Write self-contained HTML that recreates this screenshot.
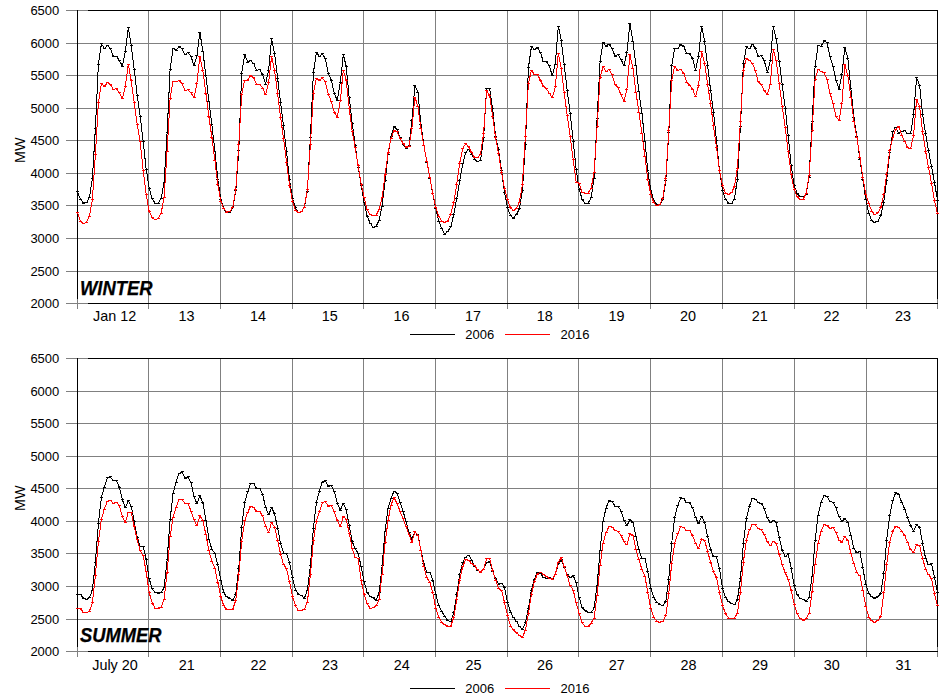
<!DOCTYPE html>
<html><head><meta charset="utf-8"><title>Load profiles</title>
<style>
html,body{margin:0;padding:0;background:#fff;}
body{width:948px;height:698px;overflow:hidden;font-family:"Liberation Sans",sans-serif;}
svg{display:block;}
text{font-family:"Liberation Sans",sans-serif;fill:#000;}
.yl{font-size:13px;}
.xl{font-size:14.4px;}
.tt{font-size:19.6px;stroke:#000;stroke-width:0.25px;font-weight:bold;font-style:italic;}
</style></head><body>
<svg width="948" height="698" viewBox="0 0 948 698">
<rect width="948" height="698" fill="#fff"/>
<rect x="66" y="10" width="871" height="1" fill="#808080"/>
<rect x="66" y="43" width="871" height="1" fill="#808080"/>
<rect x="66" y="75" width="871" height="1" fill="#808080"/>
<rect x="66" y="108" width="871" height="1" fill="#808080"/>
<rect x="66" y="140" width="871" height="1" fill="#808080"/>
<rect x="66" y="173" width="871" height="1" fill="#808080"/>
<rect x="66" y="205" width="871" height="1" fill="#808080"/>
<rect x="66" y="238" width="871" height="1" fill="#808080"/>
<rect x="66" y="271" width="871" height="1" fill="#808080"/>
<rect x="66" y="303" width="871" height="1" fill="#808080"/>
<rect x="77" y="10" width="1" height="299" fill="#808080"/>
<rect x="148" y="10" width="1" height="299" fill="#808080"/>
<rect x="220" y="10" width="1" height="299" fill="#808080"/>
<rect x="292" y="10" width="1" height="299" fill="#808080"/>
<rect x="363" y="10" width="1" height="299" fill="#808080"/>
<rect x="435" y="10" width="1" height="299" fill="#808080"/>
<rect x="507" y="10" width="1" height="299" fill="#808080"/>
<rect x="578" y="10" width="1" height="299" fill="#808080"/>
<rect x="650" y="10" width="1" height="299" fill="#808080"/>
<rect x="722" y="10" width="1" height="299" fill="#808080"/>
<rect x="794" y="10" width="1" height="299" fill="#808080"/>
<rect x="866" y="10" width="1" height="299" fill="#808080"/>
<rect x="937" y="10" width="1" height="299" fill="#808080"/>
<rect x="88" y="10" width="850" height="1" fill="#000"/>
<rect x="88" y="303" width="850" height="1" fill="#000"/>
<rect x="77" y="10" width="1" height="289" fill="#000"/>
<rect x="937" y="10" width="1" height="289" fill="#000"/>
<polyline points="77.5,191.8 80.5,199.4 83.5,203.1 86.5,202.8 89.4,197.4 92.4,178.8 95.4,128.0 98.4,64.4 101.4,43.8 104.4,48.3 107.4,45.8 110.3,48.0 113.3,56.4 116.3,56.1 119.3,60.3 122.3,66.1 125.3,51.4 128.3,27.7 131.2,45.4 134.2,69.1 137.2,95.8 140.2,116.5 143.2,141.9 146.2,169.3 149.2,188.4 152.2,198.6 155.1,203.1 158.1,203.1 161.1,198.6 164.1,182.5 167.1,132.6 170.1,69.5 173.1,48.0 176.0,50.5 179.0,46.6 182.0,48.8 185.0,54.7 188.0,52.5 191.0,56.4 194.0,65.7 196.9,55.6 199.9,32.4 202.9,51.4 205.9,75.9 208.9,101.6 211.9,124.6 214.9,151.2 217.8,179.1 220.8,199.4 223.8,208.7 226.8,212.9 229.8,212.1 232.8,207.9 235.8,190.6 238.8,150.4 241.7,73.4 244.7,54.7 247.7,62.0 250.7,60.3 253.7,63.7 256.7,70.5 259.7,69.5 262.6,74.5 265.6,84.0 268.6,70.0 271.6,38.7 274.6,53.6 277.6,78.1 280.6,102.6 283.5,125.8 286.5,151.2 289.5,179.5 292.5,198.1 295.5,207.9 298.5,212.6 301.5,211.6 304.4,207.0 307.4,191.0 310.4,137.7 313.4,72.5 316.4,52.5 319.4,56.4 322.4,53.6 325.3,58.6 328.3,73.4 331.3,80.1 334.3,93.6 337.3,100.4 340.3,82.7 343.3,54.7 346.2,66.2 349.2,97.5 352.2,123.2 355.2,145.3 358.2,167.3 361.2,185.0 364.2,202.7 367.2,216.3 370.1,223.0 373.1,227.3 376.1,226.4 379.1,220.5 382.1,206.1 385.1,180.7 388.1,154.5 391.0,136.8 394.0,126.7 397.0,129.2 400.0,137.7 403.0,144.4 406.0,148.6 409.0,145.3 411.9,120.7 414.9,85.7 417.9,92.0 420.9,124.1 423.9,145.8 426.9,162.2 429.9,178.2 432.8,193.9 435.8,208.6 438.8,221.3 441.8,228.9 444.8,234.0 447.8,231.5 450.8,226.7 453.8,214.2 456.7,198.5 459.7,180.4 462.7,163.8 465.7,152.3 468.7,149.5 471.7,154.5 474.7,159.1 477.6,161.8 480.6,160.1 483.6,137.7 486.6,88.3 489.6,88.6 492.6,108.6 495.6,136.8 498.5,149.5 501.5,170.3 504.5,192.6 507.5,207.9 510.5,215.5 513.5,218.0 516.5,214.6 519.4,208.7 522.4,190.1 525.4,144.5 528.4,67.8 531.4,46.8 534.4,49.3 537.4,47.5 540.3,52.2 543.3,61.5 546.3,61.5 549.3,65.7 552.3,75.9 555.3,64.0 558.3,26.0 561.2,40.0 564.2,64.4 567.2,90.8 570.2,113.1 573.2,141.1 576.2,169.3 579.2,189.6 582.2,199.4 585.1,203.1 588.1,203.3 591.1,197.7 594.1,178.3 597.1,118.2 600.1,61.0 603.1,42.6 606.0,46.0 609.0,44.1 612.0,48.0 615.0,56.1 618.0,54.7 621.0,59.3 624.0,65.7 626.9,52.5 629.9,23.1 632.9,41.2 635.9,65.4 638.9,91.6 641.9,113.1 644.9,141.1 647.8,170.7 650.8,190.1 653.8,200.3 656.8,204.5 659.8,204.5 662.8,199.4 665.8,180.8 668.8,132.6 671.7,65.7 674.7,48.0 677.7,48.8 680.7,44.6 683.7,46.0 686.7,53.9 689.7,53.9 692.6,58.6 695.6,70.0 698.6,56.1 701.6,26.0 704.6,41.2 707.6,65.7 710.6,90.3 713.5,112.3 716.5,140.2 719.5,170.7 722.5,190.1 725.5,199.4 728.5,203.1 731.5,203.6 734.4,199.1 737.4,179.5 740.4,126.6 743.4,63.7 746.4,46.8 749.4,48.8 752.4,44.6 755.3,48.0 758.3,56.4 761.3,55.6 764.3,60.7 767.3,72.5 770.3,60.7 773.3,26.8 776.2,38.3 779.2,61.0 782.2,84.3 785.2,108.0 788.2,135.5 791.2,165.6 794.2,185.4 797.2,193.5 800.1,196.9 803.1,196.9 806.1,194.0 809.1,177.4 812.1,121.6 815.1,66.6 818.1,45.1 821.0,46.3 824.0,40.9 827.0,42.9 830.0,56.4 833.0,66.2 836.0,80.1 839.0,89.4 841.9,74.2 844.9,47.5 847.9,58.6 850.9,88.6 853.9,117.3 856.9,136.8 859.9,159.7 862.8,179.1 865.8,199.4 868.8,213.3 871.8,220.6 874.8,222.3 877.8,221.1 880.8,215.5 883.8,202.0 886.7,180.0 889.7,152.9 892.7,131.8 895.7,127.0 898.7,133.5 901.7,131.4 904.7,130.9 907.6,133.8 910.6,133.8 913.6,114.5 916.6,77.9 919.6,85.2 922.6,114.8 925.6,133.5 928.5,150.7 931.5,166.4 934.5,182.5 937.5,200.3" fill="none" stroke="#000" stroke-width="1" shape-rendering="crispEdges" stroke-linejoin="round"/>
<path d="M76.0,191.8h3M79.0,199.4h3M82.0,203.1h3M85.0,202.8h3M87.9,197.4h3M90.9,178.8h3M93.9,128.0h3M96.9,64.4h3M99.9,43.8h3M102.9,48.3h3M105.9,45.8h3M108.8,48.0h3M111.8,56.4h3M114.8,56.1h3M117.8,60.3h3M120.8,66.1h3M123.8,51.4h3M126.8,27.7h3M129.8,45.4h3M132.7,69.1h3M135.7,95.8h3M138.7,116.5h3M141.7,141.9h3M144.7,169.3h3M147.7,188.4h3M150.7,198.6h3M153.6,203.1h3M156.6,203.1h3M159.6,198.6h3M162.6,182.5h3M165.6,132.6h3M168.6,69.5h3M171.6,48.0h3M174.5,50.5h3M177.5,46.6h3M180.5,48.8h3M183.5,54.7h3M186.5,52.5h3M189.5,56.4h3M192.5,65.7h3M195.4,55.6h3M198.4,32.4h3M201.4,51.4h3M204.4,75.9h3M207.4,101.6h3M210.4,124.6h3M213.4,151.2h3M216.3,179.1h3M219.3,199.4h3M222.3,208.7h3M225.3,212.9h3M228.3,212.1h3M231.3,207.9h3M234.3,190.6h3M237.2,150.4h3M240.2,73.4h3M243.2,54.7h3M246.2,62.0h3M249.2,60.3h3M252.2,63.7h3M255.2,70.5h3M258.2,69.5h3M261.1,74.5h3M264.1,84.0h3M267.1,70.0h3M270.1,38.7h3M273.1,53.6h3M276.1,78.1h3M279.1,102.6h3M282.0,125.8h3M285.0,151.2h3M288.0,179.5h3M291.0,198.1h3M294.0,207.9h3M297.0,212.6h3M300.0,211.6h3M302.9,207.0h3M305.9,191.0h3M308.9,137.7h3M311.9,72.5h3M314.9,52.5h3M317.9,56.4h3M320.9,53.6h3M323.8,58.6h3M326.8,73.4h3M329.8,80.1h3M332.8,93.6h3M335.8,100.4h3M338.8,82.7h3M341.8,54.7h3M344.8,66.2h3M347.7,97.5h3M350.7,123.2h3M353.7,145.3h3M356.7,167.3h3M359.7,185.0h3M362.7,202.7h3M365.7,216.3h3M368.6,223.0h3M371.6,227.3h3M374.6,226.4h3M377.6,220.5h3M380.6,206.1h3M383.6,180.7h3M386.6,154.5h3M389.5,136.8h3M392.5,126.7h3M395.5,129.2h3M398.5,137.7h3M401.5,144.4h3M404.5,148.6h3M407.5,145.3h3M410.4,120.7h3M413.4,85.7h3M416.4,92.0h3M419.4,124.1h3M422.4,145.8h3M425.4,162.2h3M428.4,178.2h3M431.3,193.9h3M434.3,208.6h3M437.3,221.3h3M440.3,228.9h3M443.3,234.0h3M446.3,231.5h3M449.3,226.7h3M452.2,214.2h3M455.2,198.5h3M458.2,180.4h3M461.2,163.8h3M464.2,152.3h3M467.2,149.5h3M470.2,154.5h3M473.2,159.1h3M476.1,161.8h3M479.1,160.1h3M482.1,137.7h3M485.1,88.3h3M488.1,88.6h3M491.1,108.6h3M494.1,136.8h3M497.0,149.5h3M500.0,170.3h3M503.0,192.6h3M506.0,207.9h3M509.0,215.5h3M512.0,218.0h3M515.0,214.6h3M517.9,208.7h3M520.9,190.1h3M523.9,144.5h3M526.9,67.8h3M529.9,46.8h3M532.9,49.3h3M535.9,47.5h3M538.8,52.2h3M541.8,61.5h3M544.8,61.5h3M547.8,65.7h3M550.8,75.9h3M553.8,64.0h3M556.8,26.0h3M559.8,40.0h3M562.7,64.4h3M565.7,90.8h3M568.7,113.1h3M571.7,141.1h3M574.7,169.3h3M577.7,189.6h3M580.7,199.4h3M583.6,203.1h3M586.6,203.3h3M589.6,197.7h3M592.6,178.3h3M595.6,118.2h3M598.6,61.0h3M601.6,42.6h3M604.5,46.0h3M607.5,44.1h3M610.5,48.0h3M613.5,56.1h3M616.5,54.7h3M619.5,59.3h3M622.5,65.7h3M625.4,52.5h3M628.4,23.1h3M631.4,41.2h3M634.4,65.4h3M637.4,91.6h3M640.4,113.1h3M643.4,141.1h3M646.3,170.7h3M649.3,190.1h3M652.3,200.3h3M655.3,204.5h3M658.3,204.5h3M661.3,199.4h3M664.3,180.8h3M667.2,132.6h3M670.2,65.7h3M673.2,48.0h3M676.2,48.8h3M679.2,44.6h3M682.2,46.0h3M685.2,53.9h3M688.2,53.9h3M691.1,58.6h3M694.1,70.0h3M697.1,56.1h3M700.1,26.0h3M703.1,41.2h3M706.1,65.7h3M709.1,90.3h3M712.0,112.3h3M715.0,140.2h3M718.0,170.7h3M721.0,190.1h3M724.0,199.4h3M727.0,203.1h3M730.0,203.6h3M732.9,199.1h3M735.9,179.5h3M738.9,126.6h3M741.9,63.7h3M744.9,46.8h3M747.9,48.8h3M750.9,44.6h3M753.8,48.0h3M756.8,56.4h3M759.8,55.6h3M762.8,60.7h3M765.8,72.5h3M768.8,60.7h3M771.8,26.8h3M774.8,38.3h3M777.7,61.0h3M780.7,84.3h3M783.7,108.0h3M786.7,135.5h3M789.7,165.6h3M792.7,185.4h3M795.7,193.5h3M798.6,196.9h3M801.6,196.9h3M804.6,194.0h3M807.6,177.4h3M810.6,121.6h3M813.6,66.6h3M816.6,45.1h3M819.5,46.3h3M822.5,40.9h3M825.5,42.9h3M828.5,56.4h3M831.5,66.2h3M834.5,80.1h3M837.5,89.4h3M840.4,74.2h3M843.4,47.5h3M846.4,58.6h3M849.4,88.6h3M852.4,117.3h3M855.4,136.8h3M858.4,159.7h3M861.3,179.1h3M864.3,199.4h3M867.3,213.3h3M870.3,220.6h3M873.3,222.3h3M876.3,221.1h3M879.3,215.5h3M882.2,202.0h3M885.2,180.0h3M888.2,152.9h3M891.2,131.8h3M894.2,127.0h3M897.2,133.5h3M900.2,131.4h3M903.2,130.9h3M906.1,133.8h3M909.1,133.8h3M912.1,114.5h3M915.1,77.9h3M918.1,85.2h3M921.1,114.8h3M924.1,133.5h3M927.0,150.7h3M930.0,166.4h3M933.0,182.5h3M936.0,200.3h3" fill="none" stroke="#000" stroke-width="1" shape-rendering="crispEdges"/>
<polyline points="77.5,212.9 80.5,221.1 83.5,223.9 86.5,222.3 89.4,216.3 92.4,199.4 95.4,154.6 98.4,102.9 101.4,83.5 104.4,86.4 107.4,82.7 110.3,84.3 113.3,89.4 116.3,88.6 119.3,92.8 122.3,98.7 125.3,86.9 128.3,64.0 131.2,80.6 134.2,102.6 137.2,124.6 140.2,141.9 143.2,170.7 146.2,194.3 149.2,211.6 152.2,217.7 155.1,219.7 158.1,218.4 161.1,213.3 164.1,197.7 167.1,151.2 170.1,98.7 173.1,81.0 176.0,81.8 179.0,80.6 182.0,83.5 185.0,90.8 188.0,89.8 191.0,92.8 194.0,97.9 196.9,83.0 199.9,56.4 202.9,70.8 205.9,93.6 208.9,116.8 211.9,137.7 214.9,160.5 217.8,184.5 220.8,201.1 223.8,208.7 226.8,212.1 229.8,211.6 232.8,207.0 235.8,189.3 238.8,144.5 241.7,94.2 244.7,80.1 247.7,80.1 250.7,75.5 253.7,77.9 256.7,84.3 259.7,84.0 262.6,88.1 265.6,94.8 268.6,82.7 271.6,56.4 274.6,70.5 277.6,93.6 280.6,117.3 283.5,138.2 286.5,162.2 289.5,185.0 292.5,201.4 295.5,210.4 298.5,212.9 301.5,211.6 304.4,207.0 307.4,189.3 310.4,144.5 313.4,93.6 316.4,78.4 319.4,80.1 322.4,77.9 325.3,81.8 328.3,94.2 331.3,101.3 334.3,112.3 337.3,117.0 340.3,100.9 343.3,70.5 346.2,80.1 349.2,108.0 352.2,131.7 355.2,147.8 358.2,165.6 361.2,184.2 364.2,197.7 367.2,209.5 370.1,214.6 373.1,215.9 376.1,215.4 379.1,209.5 382.1,197.7 385.1,174.8 388.1,152.8 391.0,138.5 394.0,130.9 397.0,131.7 400.0,138.5 403.0,143.1 406.0,147.0 409.0,146.1 411.9,128.4 414.9,97.1 417.9,106.4 420.9,128.4 423.9,145.8 426.9,161.7 429.9,177.4 432.8,193.9 435.8,207.5 438.8,216.3 441.8,221.0 444.8,222.2 447.8,221.0 450.8,214.2 453.8,202.4 456.7,184.5 459.7,163.0 462.7,148.6 465.7,143.5 468.7,146.9 471.7,152.8 474.7,157.4 477.6,157.9 480.6,154.2 483.6,133.4 486.6,90.3 489.6,95.4 492.6,116.0 495.6,137.7 498.5,153.2 501.5,172.3 504.5,188.4 507.5,199.8 510.5,207.9 513.5,210.4 516.5,208.2 519.4,202.0 522.4,184.5 525.4,136.0 528.4,83.5 531.4,70.5 534.4,74.2 537.4,74.5 540.3,80.1 543.3,86.0 546.3,88.6 549.3,93.1 552.3,97.9 555.3,86.9 558.3,53.1 561.2,68.3 564.2,92.5 567.2,115.6 570.2,136.5 573.2,159.7 576.2,182.5 579.2,183.0 582.2,192.7 585.1,193.0 588.1,193.0 591.1,188.4 594.1,172.4 597.1,126.7 600.1,77.2 603.1,66.6 606.0,71.7 609.0,69.5 612.0,74.2 615.0,84.3 618.0,87.7 621.0,94.8 624.0,101.6 626.9,89.4 629.9,54.7 632.9,68.3 635.9,92.0 638.9,112.3 641.9,133.1 644.9,156.3 647.8,179.5 650.8,194.3 653.8,202.8 656.8,205.8 659.8,204.5 662.8,198.1 665.8,178.8 668.8,130.1 671.7,80.1 674.7,66.2 677.7,70.5 680.7,69.5 683.7,73.4 686.7,82.3 689.7,85.2 692.6,89.4 695.6,96.5 698.6,85.2 701.6,51.4 704.6,63.2 707.6,84.3 710.6,103.8 713.5,125.8 716.5,147.3 719.5,170.7 722.5,185.5 725.5,193.0 728.5,194.3 731.5,192.7 734.4,186.7 737.4,168.1 740.4,121.6 743.4,70.8 746.4,58.1 749.4,60.7 752.4,63.2 755.3,70.5 758.3,81.8 761.3,84.7 764.3,90.3 767.3,94.8 770.3,84.0 773.3,49.2 776.2,60.3 779.2,83.5 782.2,106.3 785.2,127.5 788.2,151.2 791.2,174.9 794.2,189.3 797.2,196.9 800.1,199.4 803.1,199.1 806.1,193.5 809.1,175.7 812.1,130.9 815.1,79.3 818.1,69.5 821.0,71.7 824.0,72.5 827.0,79.6 830.0,93.1 833.0,103.3 836.0,116.1 839.0,120.7 841.9,103.8 844.9,64.9 847.9,75.9 850.9,97.0 853.9,121.6 856.9,137.7 859.9,157.1 862.8,177.4 865.8,194.3 868.8,203.6 871.8,211.3 874.8,214.6 877.8,212.9 880.8,207.5 883.8,194.3 886.7,174.0 889.7,150.4 892.7,137.7 895.7,129.2 898.7,126.7 901.7,135.1 904.7,141.1 907.6,147.8 910.6,148.7 913.6,135.1 916.6,99.6 919.6,106.3 922.6,131.8 925.6,151.2 928.5,167.3 931.5,183.4 934.5,200.8 937.5,213.8" fill="none" stroke="#f00" stroke-width="1" shape-rendering="crispEdges" stroke-linejoin="round"/>
<path d="M76.0,212.9h3M79.0,221.1h3M82.0,223.9h3M85.0,222.3h3M87.9,216.3h3M90.9,199.4h3M93.9,154.6h3M96.9,102.9h3M99.9,83.5h3M102.9,86.4h3M105.9,82.7h3M108.8,84.3h3M111.8,89.4h3M114.8,88.6h3M117.8,92.8h3M120.8,98.7h3M123.8,86.9h3M126.8,64.0h3M129.8,80.6h3M132.7,102.6h3M135.7,124.6h3M138.7,141.9h3M141.7,170.7h3M144.7,194.3h3M147.7,211.6h3M150.7,217.7h3M153.6,219.7h3M156.6,218.4h3M159.6,213.3h3M162.6,197.7h3M165.6,151.2h3M168.6,98.7h3M171.6,81.0h3M174.5,81.8h3M177.5,80.6h3M180.5,83.5h3M183.5,90.8h3M186.5,89.8h3M189.5,92.8h3M192.5,97.9h3M195.4,83.0h3M198.4,56.4h3M201.4,70.8h3M204.4,93.6h3M207.4,116.8h3M210.4,137.7h3M213.4,160.5h3M216.3,184.5h3M219.3,201.1h3M222.3,208.7h3M225.3,212.1h3M228.3,211.6h3M231.3,207.0h3M234.3,189.3h3M237.2,144.5h3M240.2,94.2h3M243.2,80.1h3M246.2,80.1h3M249.2,75.5h3M252.2,77.9h3M255.2,84.3h3M258.2,84.0h3M261.1,88.1h3M264.1,94.8h3M267.1,82.7h3M270.1,56.4h3M273.1,70.5h3M276.1,93.6h3M279.1,117.3h3M282.0,138.2h3M285.0,162.2h3M288.0,185.0h3M291.0,201.4h3M294.0,210.4h3M297.0,212.9h3M300.0,211.6h3M302.9,207.0h3M305.9,189.3h3M308.9,144.5h3M311.9,93.6h3M314.9,78.4h3M317.9,80.1h3M320.9,77.9h3M323.8,81.8h3M326.8,94.2h3M329.8,101.3h3M332.8,112.3h3M335.8,117.0h3M338.8,100.9h3M341.8,70.5h3M344.8,80.1h3M347.7,108.0h3M350.7,131.7h3M353.7,147.8h3M356.7,165.6h3M359.7,184.2h3M362.7,197.7h3M365.7,209.5h3M368.6,214.6h3M371.6,215.9h3M374.6,215.4h3M377.6,209.5h3M380.6,197.7h3M383.6,174.8h3M386.6,152.8h3M389.5,138.5h3M392.5,130.9h3M395.5,131.7h3M398.5,138.5h3M401.5,143.1h3M404.5,147.0h3M407.5,146.1h3M410.4,128.4h3M413.4,97.1h3M416.4,106.4h3M419.4,128.4h3M422.4,145.8h3M425.4,161.7h3M428.4,177.4h3M431.3,193.9h3M434.3,207.5h3M437.3,216.3h3M440.3,221.0h3M443.3,222.2h3M446.3,221.0h3M449.3,214.2h3M452.2,202.4h3M455.2,184.5h3M458.2,163.0h3M461.2,148.6h3M464.2,143.5h3M467.2,146.9h3M470.2,152.8h3M473.2,157.4h3M476.1,157.9h3M479.1,154.2h3M482.1,133.4h3M485.1,90.3h3M488.1,95.4h3M491.1,116.0h3M494.1,137.7h3M497.0,153.2h3M500.0,172.3h3M503.0,188.4h3M506.0,199.8h3M509.0,207.9h3M512.0,210.4h3M515.0,208.2h3M517.9,202.0h3M520.9,184.5h3M523.9,136.0h3M526.9,83.5h3M529.9,70.5h3M532.9,74.2h3M535.9,74.5h3M538.8,80.1h3M541.8,86.0h3M544.8,88.6h3M547.8,93.1h3M550.8,97.9h3M553.8,86.9h3M556.8,53.1h3M559.8,68.3h3M562.7,92.5h3M565.7,115.6h3M568.7,136.5h3M571.7,159.7h3M574.7,182.5h3M577.7,183.0h3M580.7,192.7h3M583.6,193.0h3M586.6,193.0h3M589.6,188.4h3M592.6,172.4h3M595.6,126.7h3M598.6,77.2h3M601.6,66.6h3M604.5,71.7h3M607.5,69.5h3M610.5,74.2h3M613.5,84.3h3M616.5,87.7h3M619.5,94.8h3M622.5,101.6h3M625.4,89.4h3M628.4,54.7h3M631.4,68.3h3M634.4,92.0h3M637.4,112.3h3M640.4,133.1h3M643.4,156.3h3M646.3,179.5h3M649.3,194.3h3M652.3,202.8h3M655.3,205.8h3M658.3,204.5h3M661.3,198.1h3M664.3,178.8h3M667.2,130.1h3M670.2,80.1h3M673.2,66.2h3M676.2,70.5h3M679.2,69.5h3M682.2,73.4h3M685.2,82.3h3M688.2,85.2h3M691.1,89.4h3M694.1,96.5h3M697.1,85.2h3M700.1,51.4h3M703.1,63.2h3M706.1,84.3h3M709.1,103.8h3M712.0,125.8h3M715.0,147.3h3M718.0,170.7h3M721.0,185.5h3M724.0,193.0h3M727.0,194.3h3M730.0,192.7h3M732.9,186.7h3M735.9,168.1h3M738.9,121.6h3M741.9,70.8h3M744.9,58.1h3M747.9,60.7h3M750.9,63.2h3M753.8,70.5h3M756.8,81.8h3M759.8,84.7h3M762.8,90.3h3M765.8,94.8h3M768.8,84.0h3M771.8,49.2h3M774.8,60.3h3M777.7,83.5h3M780.7,106.3h3M783.7,127.5h3M786.7,151.2h3M789.7,174.9h3M792.7,189.3h3M795.7,196.9h3M798.6,199.4h3M801.6,199.1h3M804.6,193.5h3M807.6,175.7h3M810.6,130.9h3M813.6,79.3h3M816.6,69.5h3M819.5,71.7h3M822.5,72.5h3M825.5,79.6h3M828.5,93.1h3M831.5,103.3h3M834.5,116.1h3M837.5,120.7h3M840.4,103.8h3M843.4,64.9h3M846.4,75.9h3M849.4,97.0h3M852.4,121.6h3M855.4,137.7h3M858.4,157.1h3M861.3,177.4h3M864.3,194.3h3M867.3,203.6h3M870.3,211.3h3M873.3,214.6h3M876.3,212.9h3M879.3,207.5h3M882.2,194.3h3M885.2,174.0h3M888.2,150.4h3M891.2,137.7h3M894.2,129.2h3M897.2,126.7h3M900.2,135.1h3M903.2,141.1h3M906.1,147.8h3M909.1,148.7h3M912.1,135.1h3M915.1,99.6h3M918.1,106.3h3M921.1,131.8h3M924.1,151.2h3M927.0,167.3h3M930.0,183.4h3M933.0,200.8h3M936.0,213.8h3" fill="none" stroke="#f00" stroke-width="1" shape-rendering="crispEdges"/>
<text x="59.3" y="15.2" text-anchor="end" class="yl">6500</text>
<text x="59.3" y="48.2" text-anchor="end" class="yl">6000</text>
<text x="59.3" y="80.2" text-anchor="end" class="yl">5500</text>
<text x="59.3" y="113.2" text-anchor="end" class="yl">5000</text>
<text x="59.3" y="145.2" text-anchor="end" class="yl">4500</text>
<text x="59.3" y="178.2" text-anchor="end" class="yl">4000</text>
<text x="59.3" y="210.2" text-anchor="end" class="yl">3500</text>
<text x="59.3" y="243.2" text-anchor="end" class="yl">3000</text>
<text x="59.3" y="276.2" text-anchor="end" class="yl">2500</text>
<text x="59.3" y="308.2" text-anchor="end" class="yl">2000</text>
<text transform="translate(24.6,150.3) rotate(-90)" text-anchor="middle" class="xl">MW</text>
<text x="114.7" y="321" text-anchor="middle" class="xl">Jan 12</text>
<text x="186.4" y="321" text-anchor="middle" class="xl">13</text>
<text x="258.1" y="321" text-anchor="middle" class="xl">14</text>
<text x="329.7" y="321" text-anchor="middle" class="xl">15</text>
<text x="401.4" y="321" text-anchor="middle" class="xl">16</text>
<text x="473.1" y="321" text-anchor="middle" class="xl">17</text>
<text x="544.7" y="321" text-anchor="middle" class="xl">18</text>
<text x="616.4" y="321" text-anchor="middle" class="xl">19</text>
<text x="688.1" y="321" text-anchor="middle" class="xl">20</text>
<text x="759.7" y="321" text-anchor="middle" class="xl">21</text>
<text x="831.4" y="321" text-anchor="middle" class="xl">22</text>
<text x="903.1" y="321" text-anchor="middle" class="xl">23</text>
<text x="80" y="294.7" class="tt" textLength="72.5" lengthAdjust="spacingAndGlyphs">WINTER</text>
<rect x="410" y="334" width="45" height="1" fill="#000"/>
<rect x="505" y="334" width="45" height="1" fill="#f00"/>
<text x="465.3" y="339.2" class="yl">2006</text>
<text x="560.6" y="339.2" class="yl">2016</text>
<rect x="66" y="358" width="871" height="1" fill="#808080"/>
<rect x="66" y="391" width="871" height="1" fill="#808080"/>
<rect x="66" y="423" width="871" height="1" fill="#808080"/>
<rect x="66" y="456" width="871" height="1" fill="#808080"/>
<rect x="66" y="488" width="871" height="1" fill="#808080"/>
<rect x="66" y="521" width="871" height="1" fill="#808080"/>
<rect x="66" y="553" width="871" height="1" fill="#808080"/>
<rect x="66" y="586" width="871" height="1" fill="#808080"/>
<rect x="66" y="619" width="871" height="1" fill="#808080"/>
<rect x="66" y="651" width="871" height="1" fill="#808080"/>
<rect x="77" y="358" width="1" height="299" fill="#808080"/>
<rect x="148" y="358" width="1" height="299" fill="#808080"/>
<rect x="220" y="358" width="1" height="299" fill="#808080"/>
<rect x="292" y="358" width="1" height="299" fill="#808080"/>
<rect x="363" y="358" width="1" height="299" fill="#808080"/>
<rect x="435" y="358" width="1" height="299" fill="#808080"/>
<rect x="507" y="358" width="1" height="299" fill="#808080"/>
<rect x="578" y="358" width="1" height="299" fill="#808080"/>
<rect x="650" y="358" width="1" height="299" fill="#808080"/>
<rect x="722" y="358" width="1" height="299" fill="#808080"/>
<rect x="794" y="358" width="1" height="299" fill="#808080"/>
<rect x="866" y="358" width="1" height="299" fill="#808080"/>
<rect x="937" y="358" width="1" height="299" fill="#808080"/>
<rect x="88" y="358" width="850" height="1" fill="#000"/>
<rect x="88" y="651" width="850" height="1" fill="#000"/>
<rect x="77" y="358" width="1" height="289" fill="#000"/>
<rect x="937" y="358" width="1" height="289" fill="#000"/>
<polyline points="77.5,594.3 80.5,594.7 83.5,598.1 86.5,599.4 89.4,597.7 92.4,590.1 95.4,562.2 98.4,523.7 101.4,497.2 104.4,487.0 107.4,477.7 110.3,476.9 113.3,480.9 116.3,480.9 119.3,487.0 122.3,499.5 125.3,507.7 128.3,500.9 131.2,506.0 134.2,521.5 137.2,537.3 140.2,546.2 143.2,546.9 146.2,559.3 149.2,578.8 152.2,588.9 155.1,592.3 158.1,593.0 161.1,592.7 164.1,587.6 167.1,559.7 170.1,519.5 173.1,493.3 176.0,482.3 179.0,473.5 182.0,471.8 185.0,478.1 188.0,476.9 191.0,482.6 194.0,496.3 196.9,503.9 199.9,495.8 202.9,502.9 205.9,520.4 208.9,539.0 211.9,549.6 214.9,553.3 217.8,564.8 220.8,580.5 223.8,592.7 226.8,596.9 229.8,598.1 232.8,600.3 235.8,594.0 238.8,568.1 241.7,527.1 244.7,502.3 247.7,491.6 250.7,483.1 253.7,483.6 256.7,488.7 259.7,488.7 262.6,494.5 265.6,507.3 268.6,514.8 271.6,507.7 274.6,513.6 277.6,528.3 280.6,543.5 283.5,553.0 286.5,553.0 289.5,562.6 292.5,577.8 295.5,590.1 298.5,594.0 301.5,595.7 304.4,598.1 307.4,590.1 310.4,565.6 313.4,528.0 316.4,502.6 319.4,491.1 322.4,482.0 325.3,480.9 328.3,486.0 331.3,485.7 334.3,491.6 337.3,503.4 340.3,510.2 343.3,503.4 346.2,509.7 349.2,525.4 352.2,541.5 355.2,548.6 358.2,553.3 361.2,566.9 364.2,581.7 367.2,592.3 370.1,596.4 373.1,597.7 376.1,600.3 379.1,592.7 382.1,565.9 385.1,531.0 388.1,508.0 391.0,498.4 394.0,491.1 397.0,493.3 400.0,502.3 403.0,511.0 406.0,521.2 409.0,532.7 411.9,539.0 414.9,531.7 417.9,534.7 420.9,550.3 423.9,563.5 426.9,572.3 429.9,572.3 432.8,580.5 435.8,594.3 438.8,605.8 441.8,611.6 444.8,616.3 447.8,620.6 450.8,621.4 453.8,612.6 456.7,594.3 459.7,574.4 462.7,562.5 465.7,557.1 468.7,555.1 471.7,560.2 474.7,566.4 477.6,570.3 480.6,572.0 483.6,569.3 486.6,562.5 489.6,561.9 492.6,571.0 495.6,578.8 498.5,584.2 501.5,583.4 504.5,587.2 507.5,602.0 510.5,612.1 513.5,617.7 516.5,621.4 519.4,626.5 522.4,629.5 525.4,622.8 528.4,608.7 531.4,590.1 534.4,579.1 537.4,572.0 540.3,573.2 543.3,577.1 546.3,578.3 549.3,577.8 552.3,578.8 555.3,574.9 558.3,563.9 561.2,559.7 564.2,567.3 567.2,574.9 570.2,577.4 573.2,575.7 576.2,582.8 579.2,597.7 582.2,607.5 585.1,610.9 588.1,612.1 591.1,612.9 594.1,607.9 597.1,585.0 600.1,550.3 603.1,521.2 606.0,508.0 609.0,500.9 612.0,501.7 615.0,506.0 618.0,506.0 621.0,511.0 624.0,520.4 626.9,525.9 629.9,519.8 632.9,522.0 635.9,536.4 638.9,549.6 641.9,558.4 644.9,558.1 647.8,571.6 650.8,588.4 653.8,597.7 656.8,602.0 659.8,604.2 662.8,605.8 665.8,601.4 668.8,579.1 671.7,543.2 674.7,517.5 677.7,505.6 680.7,497.9 683.7,498.9 686.7,502.9 689.7,502.9 692.6,507.7 695.6,517.5 698.6,523.7 701.6,516.5 704.6,522.0 707.6,536.4 710.6,549.6 713.5,556.7 716.5,556.7 719.5,568.9 722.5,588.4 725.5,597.4 728.5,601.4 731.5,603.1 734.4,604.8 737.4,599.8 740.4,578.8 743.4,543.5 746.4,518.2 749.4,506.0 752.4,498.4 755.3,499.2 758.3,502.9 761.3,503.4 764.3,508.5 767.3,517.5 770.3,522.9 773.3,520.4 776.2,522.5 779.2,537.3 782.2,550.3 785.2,556.7 788.2,553.7 791.2,568.2 794.2,585.5 797.2,594.3 800.1,598.6 803.1,599.4 806.1,601.1 809.1,597.4 812.1,576.6 815.1,540.6 818.1,515.3 821.0,502.3 824.0,495.8 827.0,496.7 830.0,501.2 833.0,502.6 836.0,507.7 839.0,516.5 841.9,521.5 844.9,518.7 847.9,522.0 850.9,535.6 853.9,548.6 856.9,552.5 859.9,551.6 862.8,567.7 865.8,584.5 868.8,593.0 871.8,596.9 874.8,598.1 877.8,596.9 880.8,593.5 883.8,573.7 886.7,540.1 889.7,515.3 892.7,500.6 895.7,492.8 898.7,494.1 901.7,502.3 904.7,509.0 907.6,517.5 910.6,525.9 913.6,531.0 916.6,524.9 919.6,527.1 922.6,543.5 925.6,558.4 928.5,564.8 931.5,563.8 934.5,577.0 937.5,592.3" fill="none" stroke="#000" stroke-width="1" shape-rendering="crispEdges" stroke-linejoin="round"/>
<path d="M76.0,594.3h3M79.0,594.7h3M82.0,598.1h3M85.0,599.4h3M87.9,597.7h3M90.9,590.1h3M93.9,562.2h3M96.9,523.7h3M99.9,497.2h3M102.9,487.0h3M105.9,477.7h3M108.8,476.9h3M111.8,480.9h3M114.8,480.9h3M117.8,487.0h3M120.8,499.5h3M123.8,507.7h3M126.8,500.9h3M129.8,506.0h3M132.7,521.5h3M135.7,537.3h3M138.7,546.2h3M141.7,546.9h3M144.7,559.3h3M147.7,578.8h3M150.7,588.9h3M153.6,592.3h3M156.6,593.0h3M159.6,592.7h3M162.6,587.6h3M165.6,559.7h3M168.6,519.5h3M171.6,493.3h3M174.5,482.3h3M177.5,473.5h3M180.5,471.8h3M183.5,478.1h3M186.5,476.9h3M189.5,482.6h3M192.5,496.3h3M195.4,503.9h3M198.4,495.8h3M201.4,502.9h3M204.4,520.4h3M207.4,539.0h3M210.4,549.6h3M213.4,553.3h3M216.3,564.8h3M219.3,580.5h3M222.3,592.7h3M225.3,596.9h3M228.3,598.1h3M231.3,600.3h3M234.3,594.0h3M237.2,568.1h3M240.2,527.1h3M243.2,502.3h3M246.2,491.6h3M249.2,483.1h3M252.2,483.6h3M255.2,488.7h3M258.2,488.7h3M261.1,494.5h3M264.1,507.3h3M267.1,514.8h3M270.1,507.7h3M273.1,513.6h3M276.1,528.3h3M279.1,543.5h3M282.0,553.0h3M285.0,553.0h3M288.0,562.6h3M291.0,577.8h3M294.0,590.1h3M297.0,594.0h3M300.0,595.7h3M302.9,598.1h3M305.9,590.1h3M308.9,565.6h3M311.9,528.0h3M314.9,502.6h3M317.9,491.1h3M320.9,482.0h3M323.8,480.9h3M326.8,486.0h3M329.8,485.7h3M332.8,491.6h3M335.8,503.4h3M338.8,510.2h3M341.8,503.4h3M344.8,509.7h3M347.7,525.4h3M350.7,541.5h3M353.7,548.6h3M356.7,553.3h3M359.7,566.9h3M362.7,581.7h3M365.7,592.3h3M368.6,596.4h3M371.6,597.7h3M374.6,600.3h3M377.6,592.7h3M380.6,565.9h3M383.6,531.0h3M386.6,508.0h3M389.5,498.4h3M392.5,491.1h3M395.5,493.3h3M398.5,502.3h3M401.5,511.0h3M404.5,521.2h3M407.5,532.7h3M410.4,539.0h3M413.4,531.7h3M416.4,534.7h3M419.4,550.3h3M422.4,563.5h3M425.4,572.3h3M428.4,572.3h3M431.3,580.5h3M434.3,594.3h3M437.3,605.8h3M440.3,611.6h3M443.3,616.3h3M446.3,620.6h3M449.3,621.4h3M452.2,612.6h3M455.2,594.3h3M458.2,574.4h3M461.2,562.5h3M464.2,557.1h3M467.2,555.1h3M470.2,560.2h3M473.2,566.4h3M476.1,570.3h3M479.1,572.0h3M482.1,569.3h3M485.1,562.5h3M488.1,561.9h3M491.1,571.0h3M494.1,578.8h3M497.0,584.2h3M500.0,583.4h3M503.0,587.2h3M506.0,602.0h3M509.0,612.1h3M512.0,617.7h3M515.0,621.4h3M517.9,626.5h3M520.9,629.5h3M523.9,622.8h3M526.9,608.7h3M529.9,590.1h3M532.9,579.1h3M535.9,572.0h3M538.8,573.2h3M541.8,577.1h3M544.8,578.3h3M547.8,577.8h3M550.8,578.8h3M553.8,574.9h3M556.8,563.9h3M559.8,559.7h3M562.7,567.3h3M565.7,574.9h3M568.7,577.4h3M571.7,575.7h3M574.7,582.8h3M577.7,597.7h3M580.7,607.5h3M583.6,610.9h3M586.6,612.1h3M589.6,612.9h3M592.6,607.9h3M595.6,585.0h3M598.6,550.3h3M601.6,521.2h3M604.5,508.0h3M607.5,500.9h3M610.5,501.7h3M613.5,506.0h3M616.5,506.0h3M619.5,511.0h3M622.5,520.4h3M625.4,525.9h3M628.4,519.8h3M631.4,522.0h3M634.4,536.4h3M637.4,549.6h3M640.4,558.4h3M643.4,558.1h3M646.3,571.6h3M649.3,588.4h3M652.3,597.7h3M655.3,602.0h3M658.3,604.2h3M661.3,605.8h3M664.3,601.4h3M667.2,579.1h3M670.2,543.2h3M673.2,517.5h3M676.2,505.6h3M679.2,497.9h3M682.2,498.9h3M685.2,502.9h3M688.2,502.9h3M691.1,507.7h3M694.1,517.5h3M697.1,523.7h3M700.1,516.5h3M703.1,522.0h3M706.1,536.4h3M709.1,549.6h3M712.0,556.7h3M715.0,556.7h3M718.0,568.9h3M721.0,588.4h3M724.0,597.4h3M727.0,601.4h3M730.0,603.1h3M732.9,604.8h3M735.9,599.8h3M738.9,578.8h3M741.9,543.5h3M744.9,518.2h3M747.9,506.0h3M750.9,498.4h3M753.8,499.2h3M756.8,502.9h3M759.8,503.4h3M762.8,508.5h3M765.8,517.5h3M768.8,522.9h3M771.8,520.4h3M774.8,522.5h3M777.7,537.3h3M780.7,550.3h3M783.7,556.7h3M786.7,553.7h3M789.7,568.2h3M792.7,585.5h3M795.7,594.3h3M798.6,598.6h3M801.6,599.4h3M804.6,601.1h3M807.6,597.4h3M810.6,576.6h3M813.6,540.6h3M816.6,515.3h3M819.5,502.3h3M822.5,495.8h3M825.5,496.7h3M828.5,501.2h3M831.5,502.6h3M834.5,507.7h3M837.5,516.5h3M840.4,521.5h3M843.4,518.7h3M846.4,522.0h3M849.4,535.6h3M852.4,548.6h3M855.4,552.5h3M858.4,551.6h3M861.3,567.7h3M864.3,584.5h3M867.3,593.0h3M870.3,596.9h3M873.3,598.1h3M876.3,596.9h3M879.3,593.5h3M882.2,573.7h3M885.2,540.1h3M888.2,515.3h3M891.2,500.6h3M894.2,492.8h3M897.2,494.1h3M900.2,502.3h3M903.2,509.0h3M906.1,517.5h3M909.1,525.9h3M912.1,531.0h3M915.1,524.9h3M918.1,527.1h3M921.1,543.5h3M924.1,558.4h3M927.0,564.8h3M930.0,563.8h3M933.0,577.0h3M936.0,592.3h3" fill="none" stroke="#000" stroke-width="1" shape-rendering="crispEdges"/>
<polyline points="77.5,608.7 80.5,608.7 83.5,612.6 86.5,612.9 89.4,611.3 92.4,602.8 95.4,575.4 98.4,541.5 101.4,519.5 104.4,509.0 107.4,501.2 110.3,500.1 113.3,503.4 116.3,502.3 119.3,505.6 122.3,516.1 125.3,522.9 128.3,512.2 131.2,512.7 134.2,526.3 137.2,539.8 140.2,550.3 143.2,555.9 146.2,571.9 149.2,592.7 152.2,603.1 155.1,608.2 158.1,608.2 161.1,607.0 164.1,599.4 167.1,572.7 170.1,536.4 173.1,517.5 176.0,507.7 179.0,499.5 182.0,499.5 185.0,503.4 188.0,503.4 191.0,511.0 194.0,519.5 196.9,525.9 199.9,515.8 202.9,520.4 205.9,534.7 208.9,550.3 211.9,561.8 214.9,568.2 217.8,582.5 220.8,596.9 223.8,605.8 226.8,609.6 229.8,609.6 232.8,609.2 235.8,600.3 238.8,574.4 241.7,541.2 244.7,520.9 247.7,512.4 250.7,506.0 253.7,507.7 256.7,511.4 259.7,511.4 262.6,515.8 265.6,526.3 268.6,532.2 271.6,522.5 274.6,527.1 277.6,540.6 280.6,554.2 283.5,564.3 286.5,568.9 289.5,581.7 292.5,596.9 295.5,605.8 298.5,610.9 301.5,610.4 304.4,609.2 307.4,602.0 310.4,574.9 313.4,540.6 316.4,521.2 319.4,511.4 322.4,502.6 325.3,501.7 328.3,506.0 331.3,505.6 334.3,511.9 337.3,520.4 340.3,526.6 343.3,516.5 346.2,519.2 349.2,533.0 352.2,548.6 355.2,557.1 358.2,558.7 361.2,580.8 364.2,594.3 367.2,603.6 370.1,608.2 373.1,607.9 376.1,605.8 379.1,599.4 382.1,574.4 385.1,542.8 388.1,520.4 391.0,505.1 394.0,497.5 397.0,503.4 400.0,511.0 403.0,518.7 406.0,526.3 409.0,534.7 411.9,542.3 414.9,531.7 417.9,535.1 420.9,550.8 423.9,566.9 426.9,577.9 429.9,582.5 432.8,592.7 435.8,608.7 438.8,617.2 441.8,622.3 444.8,624.8 447.8,626.1 450.8,626.1 453.8,617.2 456.7,599.4 459.7,580.0 462.7,566.4 465.7,559.7 468.7,560.2 471.7,563.6 474.7,565.9 477.6,569.8 480.6,572.0 483.6,569.3 486.6,558.8 489.6,558.8 492.6,570.7 495.6,580.0 498.5,588.9 501.5,590.1 504.5,602.5 507.5,615.5 510.5,626.1 513.5,629.9 516.5,632.9 519.4,635.3 522.4,637.5 525.4,630.2 528.4,613.8 531.4,594.3 534.4,581.7 537.4,574.0 540.3,572.0 543.3,574.0 546.3,576.6 549.3,578.3 552.3,579.1 555.3,574.4 558.3,562.2 561.2,557.5 564.2,566.4 567.2,575.7 570.2,585.5 573.2,590.1 576.2,602.5 579.2,613.8 582.2,622.8 585.1,626.8 588.1,626.5 591.1,623.1 594.1,618.0 597.1,595.2 600.1,565.5 603.1,543.5 606.0,532.7 609.0,526.6 612.0,527.1 615.0,530.5 618.0,531.3 621.0,535.6 624.0,541.5 626.9,544.9 629.9,533.9 632.9,535.1 635.9,549.1 638.9,559.8 641.9,569.4 644.9,576.2 647.8,592.7 650.8,608.7 653.8,617.2 656.8,621.1 659.8,622.3 662.8,621.1 665.8,615.5 668.8,593.5 671.7,563.5 674.7,543.2 677.7,533.9 680.7,526.6 683.7,527.6 686.7,530.5 689.7,530.5 692.6,535.6 695.6,543.5 698.6,548.3 701.6,539.0 704.6,540.1 707.6,551.6 710.6,562.1 713.5,571.9 716.5,577.3 719.5,592.7 722.5,605.3 725.5,613.8 728.5,618.0 731.5,618.4 734.4,618.0 737.4,613.3 740.4,592.3 743.4,562.1 746.4,540.1 749.4,529.7 752.4,524.6 755.3,524.9 758.3,528.8 761.3,529.7 764.3,534.7 767.3,541.5 770.3,545.7 773.3,541.5 776.2,543.2 779.2,554.2 782.2,564.3 785.2,572.8 788.2,579.1 791.2,590.1 794.2,604.2 797.2,613.8 800.1,618.4 803.1,620.1 806.1,618.9 809.1,613.3 812.1,591.8 815.1,564.3 818.1,543.5 821.0,531.3 824.0,524.9 827.0,525.4 830.0,528.3 833.0,527.6 836.0,532.2 839.0,540.1 841.9,542.3 844.9,536.4 847.9,540.6 850.9,553.3 853.9,563.8 856.9,572.8 859.9,575.7 862.8,590.1 865.8,606.5 868.8,617.2 871.8,620.6 874.8,622.3 877.8,620.6 880.8,616.3 883.8,592.7 886.7,564.3 889.7,542.3 892.7,531.0 895.7,526.6 898.7,527.1 901.7,531.3 904.7,535.6 907.6,542.3 910.6,549.9 913.6,552.0 916.6,544.9 919.6,545.7 922.6,558.4 925.6,569.4 928.5,574.5 931.5,578.7 934.5,593.5 937.5,605.8" fill="none" stroke="#f00" stroke-width="1" shape-rendering="crispEdges" stroke-linejoin="round"/>
<path d="M76.0,608.7h3M79.0,608.7h3M82.0,612.6h3M85.0,612.9h3M87.9,611.3h3M90.9,602.8h3M93.9,575.4h3M96.9,541.5h3M99.9,519.5h3M102.9,509.0h3M105.9,501.2h3M108.8,500.1h3M111.8,503.4h3M114.8,502.3h3M117.8,505.6h3M120.8,516.1h3M123.8,522.9h3M126.8,512.2h3M129.8,512.7h3M132.7,526.3h3M135.7,539.8h3M138.7,550.3h3M141.7,555.9h3M144.7,571.9h3M147.7,592.7h3M150.7,603.1h3M153.6,608.2h3M156.6,608.2h3M159.6,607.0h3M162.6,599.4h3M165.6,572.7h3M168.6,536.4h3M171.6,517.5h3M174.5,507.7h3M177.5,499.5h3M180.5,499.5h3M183.5,503.4h3M186.5,503.4h3M189.5,511.0h3M192.5,519.5h3M195.4,525.9h3M198.4,515.8h3M201.4,520.4h3M204.4,534.7h3M207.4,550.3h3M210.4,561.8h3M213.4,568.2h3M216.3,582.5h3M219.3,596.9h3M222.3,605.8h3M225.3,609.6h3M228.3,609.6h3M231.3,609.2h3M234.3,600.3h3M237.2,574.4h3M240.2,541.2h3M243.2,520.9h3M246.2,512.4h3M249.2,506.0h3M252.2,507.7h3M255.2,511.4h3M258.2,511.4h3M261.1,515.8h3M264.1,526.3h3M267.1,532.2h3M270.1,522.5h3M273.1,527.1h3M276.1,540.6h3M279.1,554.2h3M282.0,564.3h3M285.0,568.9h3M288.0,581.7h3M291.0,596.9h3M294.0,605.8h3M297.0,610.9h3M300.0,610.4h3M302.9,609.2h3M305.9,602.0h3M308.9,574.9h3M311.9,540.6h3M314.9,521.2h3M317.9,511.4h3M320.9,502.6h3M323.8,501.7h3M326.8,506.0h3M329.8,505.6h3M332.8,511.9h3M335.8,520.4h3M338.8,526.6h3M341.8,516.5h3M344.8,519.2h3M347.7,533.0h3M350.7,548.6h3M353.7,557.1h3M356.7,558.7h3M359.7,580.8h3M362.7,594.3h3M365.7,603.6h3M368.6,608.2h3M371.6,607.9h3M374.6,605.8h3M377.6,599.4h3M380.6,574.4h3M383.6,542.8h3M386.6,520.4h3M389.5,505.1h3M392.5,497.5h3M395.5,503.4h3M398.5,511.0h3M401.5,518.7h3M404.5,526.3h3M407.5,534.7h3M410.4,542.3h3M413.4,531.7h3M416.4,535.1h3M419.4,550.8h3M422.4,566.9h3M425.4,577.9h3M428.4,582.5h3M431.3,592.7h3M434.3,608.7h3M437.3,617.2h3M440.3,622.3h3M443.3,624.8h3M446.3,626.1h3M449.3,626.1h3M452.2,617.2h3M455.2,599.4h3M458.2,580.0h3M461.2,566.4h3M464.2,559.7h3M467.2,560.2h3M470.2,563.6h3M473.2,565.9h3M476.1,569.8h3M479.1,572.0h3M482.1,569.3h3M485.1,558.8h3M488.1,558.8h3M491.1,570.7h3M494.1,580.0h3M497.0,588.9h3M500.0,590.1h3M503.0,602.5h3M506.0,615.5h3M509.0,626.1h3M512.0,629.9h3M515.0,632.9h3M517.9,635.3h3M520.9,637.5h3M523.9,630.2h3M526.9,613.8h3M529.9,594.3h3M532.9,581.7h3M535.9,574.0h3M538.8,572.0h3M541.8,574.0h3M544.8,576.6h3M547.8,578.3h3M550.8,579.1h3M553.8,574.4h3M556.8,562.2h3M559.8,557.5h3M562.7,566.4h3M565.7,575.7h3M568.7,585.5h3M571.7,590.1h3M574.7,602.5h3M577.7,613.8h3M580.7,622.8h3M583.6,626.8h3M586.6,626.5h3M589.6,623.1h3M592.6,618.0h3M595.6,595.2h3M598.6,565.5h3M601.6,543.5h3M604.5,532.7h3M607.5,526.6h3M610.5,527.1h3M613.5,530.5h3M616.5,531.3h3M619.5,535.6h3M622.5,541.5h3M625.4,544.9h3M628.4,533.9h3M631.4,535.1h3M634.4,549.1h3M637.4,559.8h3M640.4,569.4h3M643.4,576.2h3M646.3,592.7h3M649.3,608.7h3M652.3,617.2h3M655.3,621.1h3M658.3,622.3h3M661.3,621.1h3M664.3,615.5h3M667.2,593.5h3M670.2,563.5h3M673.2,543.2h3M676.2,533.9h3M679.2,526.6h3M682.2,527.6h3M685.2,530.5h3M688.2,530.5h3M691.1,535.6h3M694.1,543.5h3M697.1,548.3h3M700.1,539.0h3M703.1,540.1h3M706.1,551.6h3M709.1,562.1h3M712.0,571.9h3M715.0,577.3h3M718.0,592.7h3M721.0,605.3h3M724.0,613.8h3M727.0,618.0h3M730.0,618.4h3M732.9,618.0h3M735.9,613.3h3M738.9,592.3h3M741.9,562.1h3M744.9,540.1h3M747.9,529.7h3M750.9,524.6h3M753.8,524.9h3M756.8,528.8h3M759.8,529.7h3M762.8,534.7h3M765.8,541.5h3M768.8,545.7h3M771.8,541.5h3M774.8,543.2h3M777.7,554.2h3M780.7,564.3h3M783.7,572.8h3M786.7,579.1h3M789.7,590.1h3M792.7,604.2h3M795.7,613.8h3M798.6,618.4h3M801.6,620.1h3M804.6,618.9h3M807.6,613.3h3M810.6,591.8h3M813.6,564.3h3M816.6,543.5h3M819.5,531.3h3M822.5,524.9h3M825.5,525.4h3M828.5,528.3h3M831.5,527.6h3M834.5,532.2h3M837.5,540.1h3M840.4,542.3h3M843.4,536.4h3M846.4,540.6h3M849.4,553.3h3M852.4,563.8h3M855.4,572.8h3M858.4,575.7h3M861.3,590.1h3M864.3,606.5h3M867.3,617.2h3M870.3,620.6h3M873.3,622.3h3M876.3,620.6h3M879.3,616.3h3M882.2,592.7h3M885.2,564.3h3M888.2,542.3h3M891.2,531.0h3M894.2,526.6h3M897.2,527.1h3M900.2,531.3h3M903.2,535.6h3M906.1,542.3h3M909.1,549.9h3M912.1,552.0h3M915.1,544.9h3M918.1,545.7h3M921.1,558.4h3M924.1,569.4h3M927.0,574.5h3M930.0,578.7h3M933.0,593.5h3M936.0,605.8h3" fill="none" stroke="#f00" stroke-width="1" shape-rendering="crispEdges"/>
<text x="59.3" y="363.2" text-anchor="end" class="yl">6500</text>
<text x="59.3" y="396.2" text-anchor="end" class="yl">6000</text>
<text x="59.3" y="428.2" text-anchor="end" class="yl">5500</text>
<text x="59.3" y="461.2" text-anchor="end" class="yl">5000</text>
<text x="59.3" y="493.2" text-anchor="end" class="yl">4500</text>
<text x="59.3" y="526.2" text-anchor="end" class="yl">4000</text>
<text x="59.3" y="558.2" text-anchor="end" class="yl">3500</text>
<text x="59.3" y="591.2" text-anchor="end" class="yl">3000</text>
<text x="59.3" y="624.2" text-anchor="end" class="yl">2500</text>
<text x="59.3" y="656.2" text-anchor="end" class="yl">2000</text>
<text transform="translate(24.6,498.3) rotate(-90)" text-anchor="middle" class="xl">MW</text>
<text x="115.0" y="670.2" text-anchor="middle" class="xl">July 20</text>
<text x="186.7" y="670.2" text-anchor="middle" class="xl">21</text>
<text x="258.4" y="670.2" text-anchor="middle" class="xl">22</text>
<text x="330.0" y="670.2" text-anchor="middle" class="xl">23</text>
<text x="401.7" y="670.2" text-anchor="middle" class="xl">24</text>
<text x="473.4" y="670.2" text-anchor="middle" class="xl">25</text>
<text x="545.0" y="670.2" text-anchor="middle" class="xl">26</text>
<text x="616.7" y="670.2" text-anchor="middle" class="xl">27</text>
<text x="688.4" y="670.2" text-anchor="middle" class="xl">28</text>
<text x="760.0" y="670.2" text-anchor="middle" class="xl">29</text>
<text x="831.7" y="670.2" text-anchor="middle" class="xl">30</text>
<text x="903.4" y="670.2" text-anchor="middle" class="xl">31</text>
<text x="80" y="641.8" class="tt" textLength="81.5" lengthAdjust="spacingAndGlyphs">SUMMER</text>
<rect x="410" y="688" width="45" height="1" fill="#000"/>
<rect x="505" y="688" width="45" height="1" fill="#f00"/>
<text x="465.3" y="693.2" class="yl">2006</text>
<text x="560.6" y="693.2" class="yl">2016</text>
</svg>
</body></html>
